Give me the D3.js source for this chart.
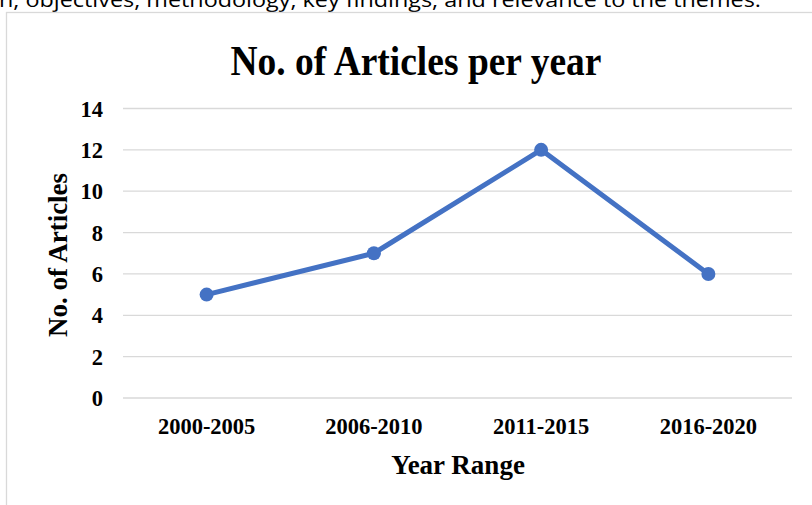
<!DOCTYPE html>
<html>
<head>
<meta charset="utf-8">
<script src="https://cdn.jsdelivr.net/npm/d3@7/dist/d3.min.js"></script>
<style>
  body { margin: 0; background: #fff; }
  svg { display: block; }
  .serif { font-family: "Liberation Serif", "Times New Roman", serif; font-weight: bold; fill: #000; }
</style>
</head>
<body>
<svg id="chart" width="812" height="505"></svg>
<script>
// data
var yearRanges = ['2000-2005', '2006-2010', '2011-2015', '2016-2020'];
var articleCounts = [5, 7, 12, 6];
var yTicks = [0, 2, 4, 6, 8, 10, 12, 14];

var svg = d3.select('#chart');

// cut-off line of document text above the chart
svg.append('text')
    .attr('x', -1)
    .attr('y', 7)
    .attr('textLength', 762)
    .attr('lengthAdjust', 'spacingAndGlyphs')
    .style('font-family', '"Open Sans", "Liberation Sans", sans-serif')
    .style('font-size', '20px')
    .style('fill', '#000')
    .text('n, objectives, methodology, key findings, and relevance to the themes.');

// chart frame
svg.append('rect')
    .attr('x', 6.5)
    .attr('y', 12.5)
    .attr('width', 900)
    .attr('height', 600)
    .attr('fill', '#fff')
    .attr('stroke', '#d9d9d9')
    .attr('stroke-width', 1.3);

var margin = {left: 123, right: 20, top: 108.5, bottom: 107};
var width = 792 - margin.left;
var height = 398 - margin.top;

var x = d3.scaleBand()
    .domain(yearRanges)
    .range([0, width]);

var y = d3.scaleLinear()
    .domain([0, 14])
    .range([height, 0]);

var g = svg.append('g')
    .attr('transform', 'translate(' + margin.left + ',' + margin.top + ')');

// gridlines
g.append('g')
    .selectAll('line')
    .data(yTicks)
  .enter().append('line')
    .attr('x1', 0)
    .attr('x2', width)
    .attr('y1', function(d) { return y(d); })
    .attr('y2', function(d) { return y(d); })
    .attr('stroke', '#d9d9d9')
    .attr('stroke-width', 1.3);

// y axis labels
var yAxis = g.append('g')
    .call(d3.axisLeft(y).tickValues(yTicks).tickSize(0).tickPadding(20));
yAxis.select('.domain').remove();
yAxis.selectAll('text')
    .attr('class', 'serif')
    .style('font-size', '22.5px')
    .attr('dy', '0.34em');

// x axis labels
var xAxis = g.append('g')
    .attr('transform', 'translate(0,' + height + ')')
    .call(d3.axisBottom(x).tickSize(0).tickPadding(36));
xAxis.select('.domain').remove();
xAxis.selectAll('text')
    .attr('class', 'serif')
    .style('font-size', '22.5px')
    .attr('dy', 0);

// line and markers
var line = d3.line()
    .x(function(d, i) { return x(yearRanges[i]) + x.bandwidth() / 2; })
    .y(function(d) { return y(d); });

g.append('path')
    .datum(articleCounts)
    .attr('d', line)
    .attr('fill', 'none')
    .attr('stroke', '#4472c4')
    .attr('stroke-width', 5)
    .attr('stroke-linejoin', 'round');

g.selectAll('.dot')
    .data(articleCounts)
  .enter().append('circle')
    .attr('class', 'dot')
    .attr('cx', function(d, i) { return x(yearRanges[i]) + x.bandwidth() / 2; })
    .attr('cy', function(d) { return y(d); })
    .attr('r', 7)
    .attr('fill', '#4472c4');

// titles
svg.append('text')
    .attr('class', 'serif')
    .attr('transform', 'translate(416,75) scale(1,1.12)')
    .attr('text-anchor', 'middle')
    .style('font-size', '37.5px')
    .text('No. of Articles per year');

svg.append('text')
    .attr('class', 'serif')
    .attr('x', 458)
    .attr('y', 474)
    .attr('text-anchor', 'middle')
    .style('font-size', '27px')
    .text('Year Range');

svg.append('text')
    .attr('class', 'serif')
    .attr('transform', 'translate(67,255) rotate(-90)')
    .attr('text-anchor', 'middle')
    .style('font-size', '27px')
    .text('No. of Articles');
</script>
</body>
</html>
